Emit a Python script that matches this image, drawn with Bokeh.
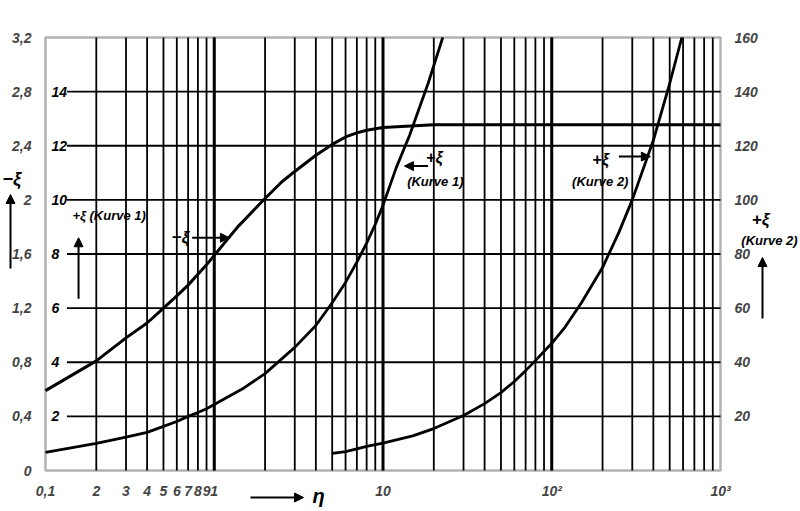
from bokeh.plotting import figure
from bokeh.models import LinearAxis, Range1d, FixedTicker, Label, Arrow, NormalHead, BoxAnnotation
from bokeh.core.properties import value
from bokeh.embed import file_html
from bokeh.resources import INLINE

# -xi (outer left scale, 0 .. 3.2)
eta_minus = [0.1, 0.2, 0.3, 0.4, 0.5, 0.6, 0.7, 0.8, 0.9, 1, 1.2, 1.4, 2, 2.5, 3, 4, 5, 6, 7, 8, 10, 20, 1000]
xi_minus = [0.59, 0.81, 0.98, 1.09, 1.20, 1.29, 1.37, 1.45, 1.52, 1.59, 1.71, 1.81, 2.01, 2.13, 2.21, 2.33, 2.41, 2.465, 2.495, 2.515, 2.535, 2.555, 2.555]

# +xi Kurve 1 (inner left scale, 0 .. 16)
eta_k1 = [0.1, 0.2, 0.3, 0.4, 0.5, 0.6, 0.7, 0.8, 0.9, 1, 1.5, 2, 3, 4, 5, 6, 7, 8, 9, 10, 12, 14.4, 16, 18.5, 22.6]
xi_k1 = [0.67, 1.0, 1.23, 1.41, 1.63, 1.81, 2.0, 2.14, 2.28, 2.44, 3.05, 3.58, 4.55, 5.36, 6.2, 6.95, 7.7, 8.4, 9.1, 9.8, 11.2, 12.4, 13.2, 14.3, 16.0]

# +xi Kurve 2 (right scale, 0 .. 160)
eta_k2 = [5, 6, 7, 8, 10, 15, 20, 30, 40, 50, 60, 70, 80, 100, 120, 150, 200, 250, 300, 400, 500, 590]
xi_k2 = [6.3, 7.0, 8.0, 8.9, 10.1, 12.8, 15.5, 20.3, 24.7, 28.8, 32.9, 36.9, 40.6, 47.0, 53.0, 62.0, 75.0, 88.0, 100, 122, 143, 160]

x_ticks = [0.1, 0.2, 0.3, 0.4, 0.5, 0.6, 0.7, 0.8, 0.9, 1, 10, 100, 1000]
x_labels = ["0,1", "2", "3", "4", "5", "6", "7", "8", "9", "1", "10", "10²", "10³"]
minus_ticks = [0, 0.4, 0.8, 1.2, 1.6, 2.0, 2.4, 2.8, 3.2]
minus_labels = ["0", "0,4", "0,8", "1,2", "1,6", "2", "2,4", "2,8", "3,2"]
k1_ticks = [2, 4, 6, 8, 10, 12, 14]
k2_ticks = [20, 40, 60, 80, 100, 120, 140, 160]

F = "Liberation Sans"
FS = "bold italic"

W, H = 800, 511
# chart box in page pixels: left, right, top, bottom
BL, BR, BT, BB = 45, 720, 37, 470
dec = (BR - BL) / 4.0
upx = (BB - BT) / 3.2
x_lo = 0.1 * 10 ** (-BL / dec)
x_hi = 1000 * 10 ** ((W - BR) / dec)
y_lo = -(H - BB) / upx
y_hi = 3.2 + BT / upx

# the frame fills the whole canvas, so texts around the chart box are not clipped
p = figure(width=W, height=H, x_axis_type="log",
           x_range=Range1d(x_lo, x_hi), y_range=Range1d(y_lo, y_hi),
           y_axis_location=None, output_backend="svg", toolbar_location=None,
           min_border=0)
p.extra_y_ranges = {"k1": Range1d(y_lo * 5, y_hi * 5), "k2": Range1d(y_lo * 50, y_hi * 50)}
p.outline_line_color = None
p.xgrid.visible = False
p.ygrid.visible = False
p.background_fill_color = "white"
p.border_fill_color = "white"

# grid lines
grid_eta = [m * 10.0 ** d for d in range(-1, 3) for m in range(2, 10)] + [1, 10, 100]
p.segment(x0=grid_eta, y0=[0] * len(grid_eta), x1=grid_eta, y1=[3.2] * len(grid_eta),
          line_color="black", line_width=1.8)
p.segment(x0=[1, 10, 100], y0=[0] * 3, x1=[1, 10, 100], y1=[3.2] * 3,
          line_color="black", line_width=3)
rows = minus_ticks[1:-1]
p.segment(x0=[0.134] * len(rows), y0=rows, x1=[1000] * len(rows), y1=rows,
          line_color="black", line_width=1.8)
p.add_layout(BoxAnnotation(left=0.1, right=1000, bottom=0, top=3.2, fill_alpha=0,
                           line_color="black", line_width=2.5))

# bottom axis, drawn at -xi = 0
xa = p.xaxis[0]
xa.fixed_location = 0
xa.bounds = (0.1, 1000)
xa.ticker = FixedTicker(ticks=x_ticks)
xa.major_label_overrides = dict(zip(x_ticks, x_labels))

# left axis (-xi) at eta = 0.1, right axis (+xi Kurve 2) at eta = 1000
ya = LinearAxis(fixed_location=0.1, bounds=(0, 3.2), ticker=FixedTicker(ticks=minus_ticks),
                major_label_overrides=dict(zip(minus_ticks, minus_labels)))
yr = LinearAxis(y_range_name="k2", fixed_location=1000, bounds=(0, 160),
                ticker=FixedTicker(ticks=k2_ticks))
for ax in (xa, ya, yr):
    ax.axis_line_color = None
    ax.major_tick_line_color = None
    ax.minor_tick_line_color = None
    ax.major_label_standoff = 8
    ax.major_label_text_font = F
    ax.major_label_text_font_style = FS
    ax.major_label_text_font_size = "14px"
xa.major_label_standoff = 6
p.add_layout(ya, "left")
p.add_layout(yr, "right")

# inner scale labels (+xi Kurve 1)
p.text(x=[0.1] * len(k1_ticks), y=k1_ticks, text=[str(t) for t in k1_ticks],
       y_range_name="k1", x_offset=6, text_align="left", text_baseline="middle",
       text_font=value(F), text_font_style=FS, text_font_size="14px", text_color="black")

# curves
p.line(eta_minus, xi_minus, line_width=3, line_color="black")
p.line(eta_k1, xi_k1, y_range_name="k1", line_width=2.8, line_color="black")
p.line(eta_k2, xi_k2, y_range_name="k2", line_width=2.8, line_color="black")


def label(x, y, text, size="13px", units="data", align="left"):
    p.add_layout(Label(x=x, y=y, text=text, x_units=units, y_units=units,
                       text_font=F, text_font_style=FS, text_font_size=size,
                       text_align=align, text_baseline="middle", text_color="black"))


def arrow(x0, y0, x1, y1, units="data"):
    p.add_layout(Arrow(end=NormalHead(size=9, fill_color="black", line_color="black"),
                       x_start=x0, y_start=y0, x_end=x1, y_end=y1,
                       start_units=units, end_units=units,
                       line_color="black", line_width=2))


# annotations inside the chart box
label(0.1445, 1.885, "+ξ (Kurve 1)", "13px")
arrow(0.157, 1.27, 0.157, 1.72)
label(0.71, 1.72, "−ξ", "17px", align="right")
arrow(0.74, 1.72, 1.23, 1.72)
arrow(18.5, 2.25, 13.4, 2.25)
label(18.0, 2.31, "+ξ", "16px")
label(13.9, 2.136, "(Kurve 1)", "13px")
label(174, 2.30, "+ξ", "16px")
arrow(250, 2.32, 384, 2.32)
label(132, 2.136, "(Kurve 2)", "13px")

# labels around the chart box (screen units: from the lower left corner, y up)
label(2, H - 178, "−ξ", "18px", units="screen")
arrow(10, H - 268, 10, H - 194, units="screen")
label(760, H - 219, "+ξ", "17px", units="screen", align="center")
label(769, H - 240, "(Kurve 2)", "13px", units="screen", align="center")
arrow(762, H - 318, 762, H - 257, units="screen")
arrow(250, H - 497, 303, H - 497, units="screen")
label(312, H - 495, "η", "20px", units="screen")

open("out.html", "w").write(file_html(p, INLINE))
